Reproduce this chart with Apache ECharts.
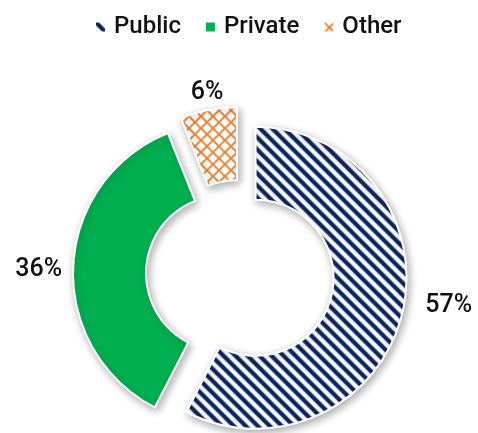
<!DOCTYPE html>
<html>
<head>
<meta charset="utf-8">
<script src="https://cdn.jsdelivr.net/npm/echarts@6/dist/echarts.min.js"></script>
<style>
  html, body { margin: 0; padding: 0; background: #ffffff; }
  #chart { width: 478px; height: 433px; }
</style>
</head>
<body>
<div id="chart"></div>
<script>
// Sector shares in percent
const categories = ['Public', 'Private', 'Other'];
const shares = [57, 36, 6];

// Tiled fills
function stripeTile(color) {
  const c = document.createElement('canvas');
  c.width = 12; c.height = 12;
  const g = c.getContext('2d');
  g.fillStyle = '#ffffff';
  g.fillRect(0, 0, 12, 12);
  g.strokeStyle = color;
  g.lineWidth = 4.2;
  for (const k of [-12, 0, 12]) {
    g.beginPath();
    g.moveTo(k - 3, -3);
    g.lineTo(k + 15, 15);
    g.stroke();
  }
  return c;
}
function diamondTile(color) {
  const c = document.createElement('canvas');
  c.width = 12; c.height = 12;
  const g = c.getContext('2d');
  g.fillStyle = '#ffffff';
  g.fillRect(0, 0, 12, 12);
  g.strokeStyle = color;
  g.lineWidth = 1.8;
  g.beginPath();
  g.moveTo(-1, -1); g.lineTo(13, 13);
  g.moveTo(13, -1); g.lineTo(-1, 13);
  g.stroke();
  return c;
}

const fills = [
  { image: stripeTile('#0b2463'), repeat: 'repeat' },
  '#00b050',
  { image: diamondTile('#f07c24'), repeat: 'repeat' }
];
// Nudges for the percentage labels, per sector
const labelShift = [[18, -8], [-6, 4], [20, -17]];

const textFont = 'Roboto, Liberation Sans, Arial, sans-serif';

const chart = echarts.init(document.getElementById('chart'), null, { renderer: 'canvas' });

chart.setOption({
  animation: false,
  legend: {
    top: 10,
    left: 89,
    itemWidth: 11,
    itemHeight: 11,
    itemGap: 23,
    icon: 'rect',
    selectedMode: false,
    textStyle: {
      fontFamily: textFont,
      fontWeight: 500,
      fontSize: 24,
      color: '#111111',
      padding: [0, 0, 0, 3]
    },
    data: categories
  },
  series: [{
    type: 'pie',
    center: [240, 274],
    radius: [78, 151],
    startAngle: 90,
    clockwise: true,
    selectedMode: 'multiple',
    selectedOffset: 16,
    avoidLabelOverlap: false,
    emphasis: { disabled: true },
    itemStyle: {
      borderColor: '#ffffff',
      borderWidth: 2,
      shadowBlur: 8,
      shadowOffsetX: 2,
      shadowOffsetY: 3,
      shadowColor: 'rgba(0,0,0,0.32)'
    },
    select: {
      itemStyle: { borderColor: '#ffffff', borderWidth: 2 }
    },
    label: {
      show: true,
      position: 'outside',
      formatter: '{c}%',
      fontFamily: textFont,
      fontWeight: 500,
      fontSize: 25,
      color: '#111111',
      distanceToLabelLine: 5
    },
    labelLine: { show: false, length: 0, length2: 0 },
    labelLayout: function (params) {
      const s = labelShift[params.dataIndex];
      return { dx: s[0], dy: s[1] };
    },
    data: categories.map((name, i) => ({
      name,
      value: shares[i],
      selected: true,
      itemStyle: { color: fills[i] }
    }))
  }]
});
</script>
</body>
</html>
